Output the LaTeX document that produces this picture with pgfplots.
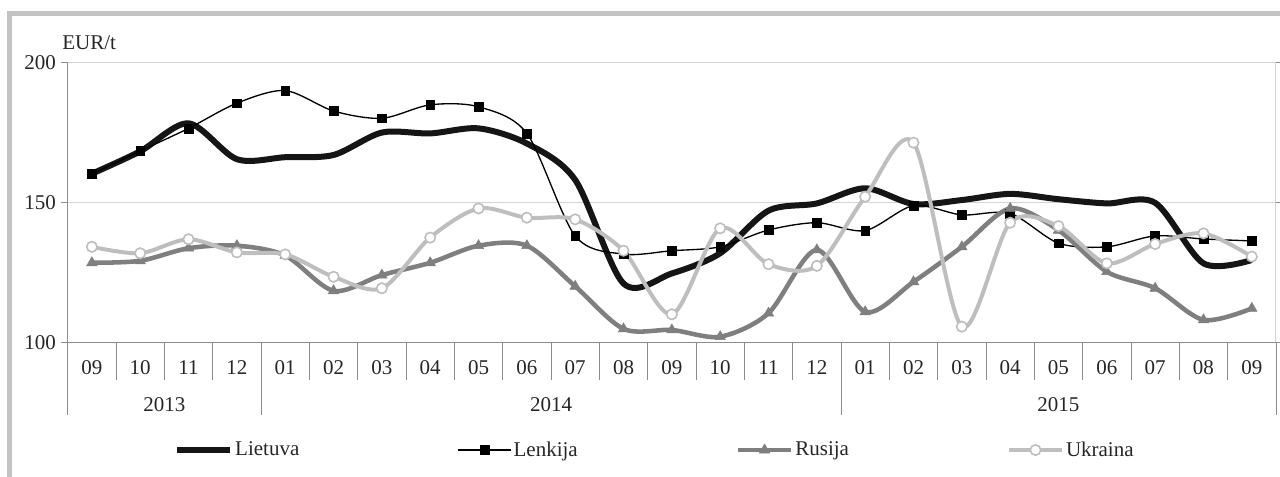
\documentclass[border=0pt]{standalone}
\usepackage{fontspec}
\setmainfont{Liberation Serif}
\usepackage{pgfplots}
\pgfplotsset{compat=1.18}
\definecolor{lietc}{HTML}{151515}
\definecolor{rusc}{HTML}{7F7F7F}
\definecolor{ukrc}{HTML}{BEBEBE}
\definecolor{framec}{HTML}{C3C3C3}
\definecolor{gridc}{HTML}{D4D4D4}
\definecolor{sepc}{HTML}{8C8C8C}
\definecolor{txtc}{HTML}{262626}
\newcommand{\fs}{\fontsize{15.75}{18}\selectfont}
\begin{document}
\begin{tikzpicture}[font=\fs]
\path[use as bounding box] (0,0) rectangle (960pt,357.75pt);
% outer frame
\draw[framec, line width=3.75pt] (5.25pt,347.6pt) -- (960pt,347.6pt);
\draw[framec, line width=3.75pt] (7.1pt,349.5pt) -- (7.1pt,0pt);
\node[anchor=west, inner sep=0pt, text=txtc] at (46.5pt,325.5pt) {EUR/t};
\begin{axis}[
  at={(50.78pt,101.03pt)}, anchor=south west,
  width=906.2pt, height=210pt, scale only axis,
  xmin=-0.5, xmax=24.5, ymin=100, ymax=200,
  axis line style={draw=none},
  xtick=\empty,
  ytick={100,150,200},
  tick align=outside, major tick length=5.25pt,
  tick style={draw=sepc, line width=0.75pt},
  ymajorgrids, major grid style={draw=gridc, line width=0.75pt},
  /pgf/number format/assume math mode=true,
  tick label style={font=\fs, text=txtc},
  extra x ticks={0,1,...,24},
  extra x tick labels={09,10,11,12,01,02,03,04,05,06,07,08,09,10,11,12,01,02,03,04,05,06,07,08,09},
  extra x tick style={major tick length=0pt, tick style={draw=none}, grid=none},
  xticklabel style={anchor=center, yshift=-18.75pt},
  clip=false,
  legend columns=4,
  legend style={at={(0.486,-0.3847)}, anchor=center, draw=none, fill=none,
    font=\fs, text=txtc,
    /tikz/every even column/.append style={column sep=117pt},
    nodes={inner xsep=1.5pt}},
  legend image code/.code={\draw[mark repeat=2,mark phase=2,#1] plot coordinates {(0pt,0pt) (19.875pt,0pt) (39.75pt,0pt)};},
]
\addplot[lietc, line width=4.5pt, smooth, no markers, line join=round] coordinates {
(0,160.2) (1,168.2) (2,178.2) (3,165.4) (4,166.1) (5,166.9) (6,174.9) (7,174.6)
(8,176.4) (9,171.0) (10,158.0) (11,121.0) (12,124.6) (13,131.8) (14,147.0) (15,149.6)
(16,155.0) (17,149.4) (18,150.8) (19,153.0) (20,151.1) (21,149.6) (22,149.8) (23,128.2) (24,129.4)};
\addlegendentry{Lietuva}
\addplot[black, line width=1pt, smooth, mark=square*, mark size=3.3pt, mark options={solid, line width=0.4pt}] coordinates {
(0,160.1) (1,168.3) (2,176.4) (3,185.4) (4,189.9) (5,182.6) (6,180.0) (7,184.8)
(8,184.1) (9,174.6) (10,138.0) (11,131.5) (12,132.7) (13,134.1) (14,140.1) (15,142.7)
(16,139.9) (17,148.8) (18,145.5) (19,146.0) (20,135.4) (21,134.1) (22,138.0) (23,136.9) (24,136.2)};
\addlegendentry{Lenkija}
\addplot[rusc, line width=3.4pt, smooth, mark=triangle*, mark size=4.5pt, mark options={solid, line width=0.4pt}] coordinates {
(0,128.4) (1,129.1) (2,133.6) (3,134.5) (4,131.0) (5,118.4) (6,124.0) (7,128.4)
(8,134.5) (9,134.5) (10,120.0) (11,104.8) (12,104.4) (13,102.0) (14,110.4) (15,133.0)
(16,110.9) (17,121.6) (18,134.1) (19,147.8) (20,140.0) (21,125.2) (22,119.3) (23,108.0) (24,112.1)};
\addlegendentry{Rusija}
\addplot[ukrc, line width=3pt, smooth, mark=*, mark size=3.9pt, mark options={solid, fill=white, draw=ukrc, line width=1.2pt}] coordinates {
(0,134.1) (1,131.8) (2,136.8) (3,132.1) (4,131.4) (5,123.4) (6,119.3) (7,137.4)
(8,147.8) (9,144.5) (10,143.9) (11,132.7) (12,110.0) (13,140.7) (14,127.9) (15,127.3)
(16,152.0) (17,171.3) (18,105.6) (19,142.7) (20,141.5) (21,128.2) (22,135.1) (23,138.9) (24,130.6)};
\addlegendentry{Ukraina}
\node[text=txtc, yshift=-46.5pt] at (axis cs:1.5,100) {2013};
\node[text=txtc, yshift=-46.5pt] at (axis cs:9.5,100) {2014};
\node[text=txtc, yshift=-46.5pt] at (axis cs:20,100) {2015};
\end{axis}
% axis lines and separators
\draw[gridc, line width=0.75pt] (956.98pt,311.03pt) -- (956.98pt,101.03pt);
\draw[sepc, line width=0.75pt] (50.78pt,101.03pt) -- (956.98pt,101.03pt);
\draw[sepc, line width=0.9pt] (50.78pt,311.03pt) -- (50.78pt,46.5pt);
\foreach \i in {1,2,3,5,6,7,8,9,10,11,12,13,14,15,17,18,19,20,21,22,23,24}
  \draw[sepc, line width=0.75pt] ({(67.7+48.333*\i)*0.75pt},101.03pt) -- ({(67.7+48.333*\i)*0.75pt},72.75pt);
\foreach \i in {4,16,25}
  \draw[sepc, line width=0.75pt] ({(67.7+48.333*\i)*0.75pt},101.03pt) -- ({(67.7+48.333*\i)*0.75pt},46.5pt);
\end{tikzpicture}
\end{document}
